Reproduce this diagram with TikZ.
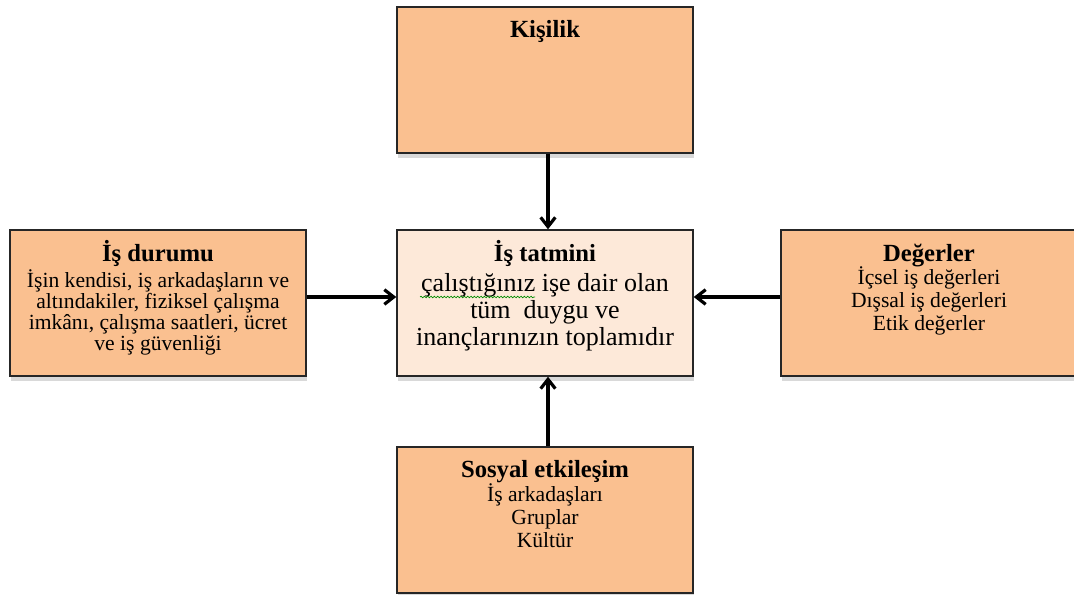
\documentclass[tikz,border=0pt]{standalone}
\usepackage{fontspec}
\setmainfont{Liberation Serif}
\usetikzlibrary{arrows.meta, shadows, decorations.pathmorphing}

\definecolor{boxorange}{RGB}{250,192,144}
\definecolor{boxpeach}{RGB}{253,233,217}

\tikzset{
  factor/.style={draw=black!85, line width=1.1pt, fill=boxorange,
    minimum width=222pt, minimum height=109.5pt, inner sep=0pt,
    drop shadow={shadow xshift=1pt, shadow yshift=-4pt, opacity=0.15, fill=black}},
  centrebox/.style={factor, fill=boxpeach},
  head/.style={font=\bfseries\fontsize{18.5}{20}\selectfont, inner sep=0pt, anchor=base},
  body/.style={font=\fontsize{16.2}{16.9}\selectfont, align=center, inner sep=0pt, anchor=base},
  arr/.style={line width=2.4pt, -{Straight Barb[length=7pt, width=11pt]}}
}

\begin{document}
\begin{tikzpicture}[x=0.75pt,y=0.75pt,yscale=-1,xscale=1]
\clip (0,0) rectangle (1074,595);

% Boxes
\node[factor] (kisilik) at (545,80) {};
\node[centrebox] (tatmin) at (545,303) {};
\node[factor] (durum) at (158,303) {};
\node[factor] (degerler) at (929,303) {};
\node[factor] (sosyal) at (545,520) {};

% Titles
\node[head] (kisilikT) at (545,38) {Kişilik};
\node[head] (tatminT) at (545,262) {İş tatmini};
\node[head] (durumT) at (158,262) {İş durumu};
\node[head] (degerlerT) at (929,262) {Değerler};
\node[head] (sosyalT) at (545,477) {Sosyal etkileşim};

% Texts (base = last line)
\node[body, font=\fontsize{19.5}{20}\selectfont] (tatminB) at (545,345)
  {çalıştığınız işe dair olan\\tüm\ \ duygu ve\\inançlarınızın toplamıdır};
\node[body, font=\fontsize{16.2}{15.75}\selectfont] (durumB) at (158,350)
  {İşin kendisi, iş arkadaşların ve\\altındakiler, fiziksel çalışma\\imkânı, çalışma saatleri, ücret\\ve iş güvenliği};
\node[body] (degerlerB) at (929,330) {İçsel iş değerleri\\Dışsal iş değerleri\\Etik değerler};
\node[body] (sosyalB) at (545,547) {İş arkadaşları\\Gruplar\\Kültür};

% spell-check mark
\draw[green!55!black, line width=0.5pt, decorate,
  decoration={snake, amplitude=0.6pt, segment length=2.5pt}] (420,297) -- (535,297);

% Arrows
\draw[arr] (kisilik.south -| 548,0) -- (tatmin.north -| 548,0);
\draw[arr] (sosyal.north -| 548,0) -- (tatmin.south -| 548,0);
\draw[arr] (durum.east |- 0,297) -- (tatmin.west |- 0,297);
\draw[arr] (degerler.west |- 0,297) -- (tatmin.east |- 0,297);

\end{tikzpicture}
\end{document}
